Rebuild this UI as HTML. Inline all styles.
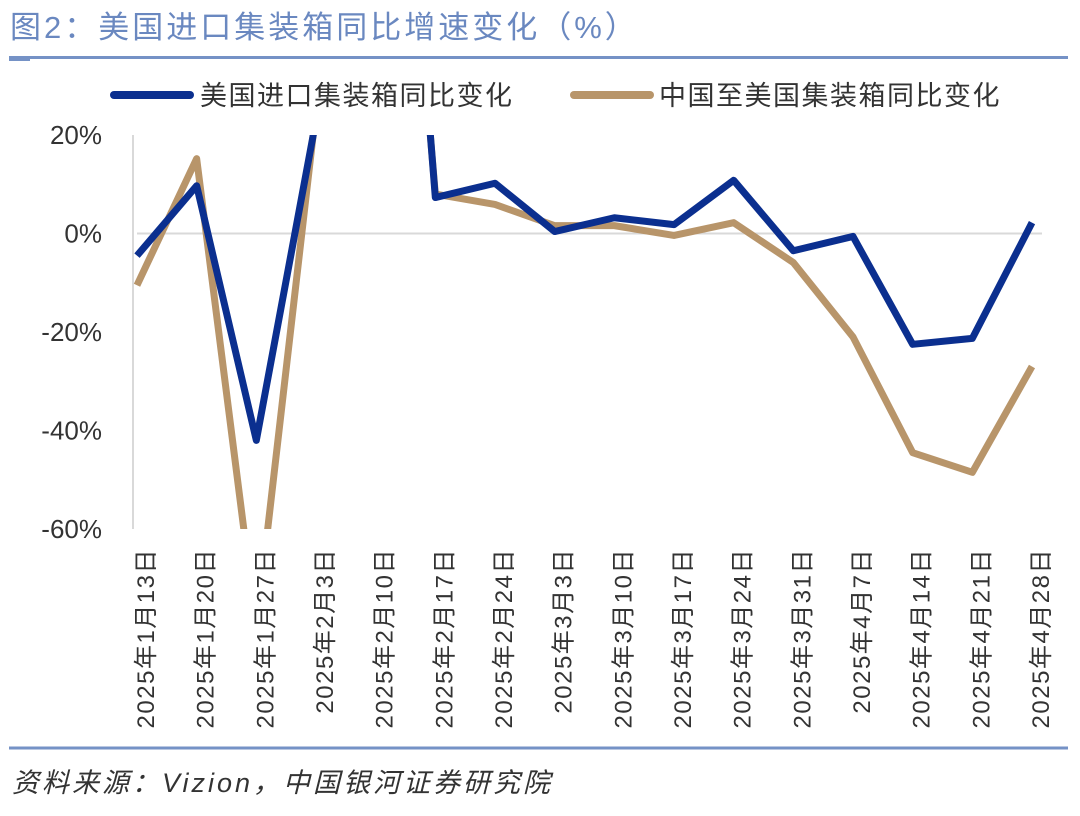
<!DOCTYPE html>
<html><head><meta charset="utf-8"><style>
body{margin:0;background:#fff;}
svg{display:block;font-family:"Liberation Sans","Noto Sans CJK SC",sans-serif;}
</style></head><body>
<svg width="1080" height="816" viewBox="0 0 1080 816">
<text x="10" y="38" font-size="31" letter-spacing="3" fill="#6a88c0">图2：美国进口集装箱同比增速变化（%）</text>
<line x1="9" y1="57.5" x2="1068" y2="57.5" stroke="#7592c6" stroke-width="3"/>
<line x1="9" y1="60" x2="30" y2="60" stroke="#7592c6" stroke-width="2"/>
<g>
<line x1="114" y1="95" x2="190" y2="95" stroke="#0b2f8f" stroke-width="8" stroke-linecap="round"/>
<text x="200" y="105" font-size="27" letter-spacing="1.5" fill="#333">美国进口集装箱同比变化</text>
<line x1="574" y1="95" x2="650" y2="95" stroke="#b8956a" stroke-width="8" stroke-linecap="round"/>
<text x="659" y="105" font-size="27" letter-spacing="1.5" fill="#333">中国至美国集装箱同比变化</text>
</g>
<g id="axes"></g>
<g id="series"></g>
<line x1="9" y1="748" x2="1068" y2="748" stroke="#7592c6" stroke-width="3"/>
<text x="12" y="792" font-size="27" letter-spacing="3" font-style="italic" fill="#333">资料来源：Vizion，中国银河证券研究院</text>
</svg>
<script>
const categories=["2025年1月13日","2025年1月20日","2025年1月27日","2025年2月3日","2025年2月10日","2025年2月17日","2025年2月24日","2025年3月3日","2025年3月10日","2025年3月17日","2025年3月24日","2025年3月31日","2025年4月7日","2025年4月14日","2025年4月21日","2025年4月28日"];
const usValues=[-4.5,9.7,-42,23,160,7.3,10.2,0.4,3.2,1.8,10.8,-3.5,-0.6,-22.5,-21.3,2.2];
const chinaValues=[-10.5,15.2,-80,25,150,8,5.9,1.6,1.6,-0.4,2.2,-5.9,-21,-44.5,-48.5,-27];
const yTicks=[20,0,-20,-40,-60];
const NS="http://www.w3.org/2000/svg";
const X0=137,X1=1032,YTOP=135,YBOT=529,VMAX=20,VMIN=-60;
const xs=i=>X0+(X1-X0)*i/(categories.length-1);
const ys=v=>YTOP+(VMAX-v)/(VMAX-VMIN)*(YBOT-YTOP);
function mk(t,a,p){const e=document.createElementNS(NS,t);for(const k in a)e.setAttribute(k,a[k]);p.appendChild(e);return e;}
const axes=document.getElementById('axes'),ser=document.getElementById('series');
const defs=mk('defs',{},document.querySelector('svg'));
const cp=mk('clipPath',{id:'plot'},defs);
mk('rect',{x:120,y:YTOP,width:950,height:YBOT-YTOP},cp);
const zl=mk('line',{x1:X0,x2:X1+10,y1:ys(0),y2:ys(0),stroke:'#d9d9d9','stroke-width':2},axes);


const ax=mk('line',{x1:133,x2:133,y1:YTOP,y2:YBOT,stroke:'#d9d9d9','stroke-width':2},axes);


yTicks.forEach(v=>{const t=mk('text',{x:102,y:ys(v)+9,'font-size':26,'text-anchor':'end',fill:'#333'},axes);t.textContent=v+'%';

});
categories.forEach((c,i)=>{const x=xs(i)+17;const t=mk('text',{x:x,y:548,'font-size':24,'letter-spacing':1.5,'text-anchor':'end',fill:'#333',transform:`rotate(-90 ${x} 548)`},axes);t.textContent=c;

});
function line(vals,color,name){const p=mk('polyline',{points:vals.map((v,i)=>xs(i)+','+ys(v)).join(' '),fill:'none',stroke:color,'stroke-width':7,'stroke-linejoin':'round','clip-path':'url(#plot)'},ser);

}
line(chinaValues,'#b8956a','china-series-line');
line(usValues,'#0b2f8f','us-series-line');
</script>
</body></html>
